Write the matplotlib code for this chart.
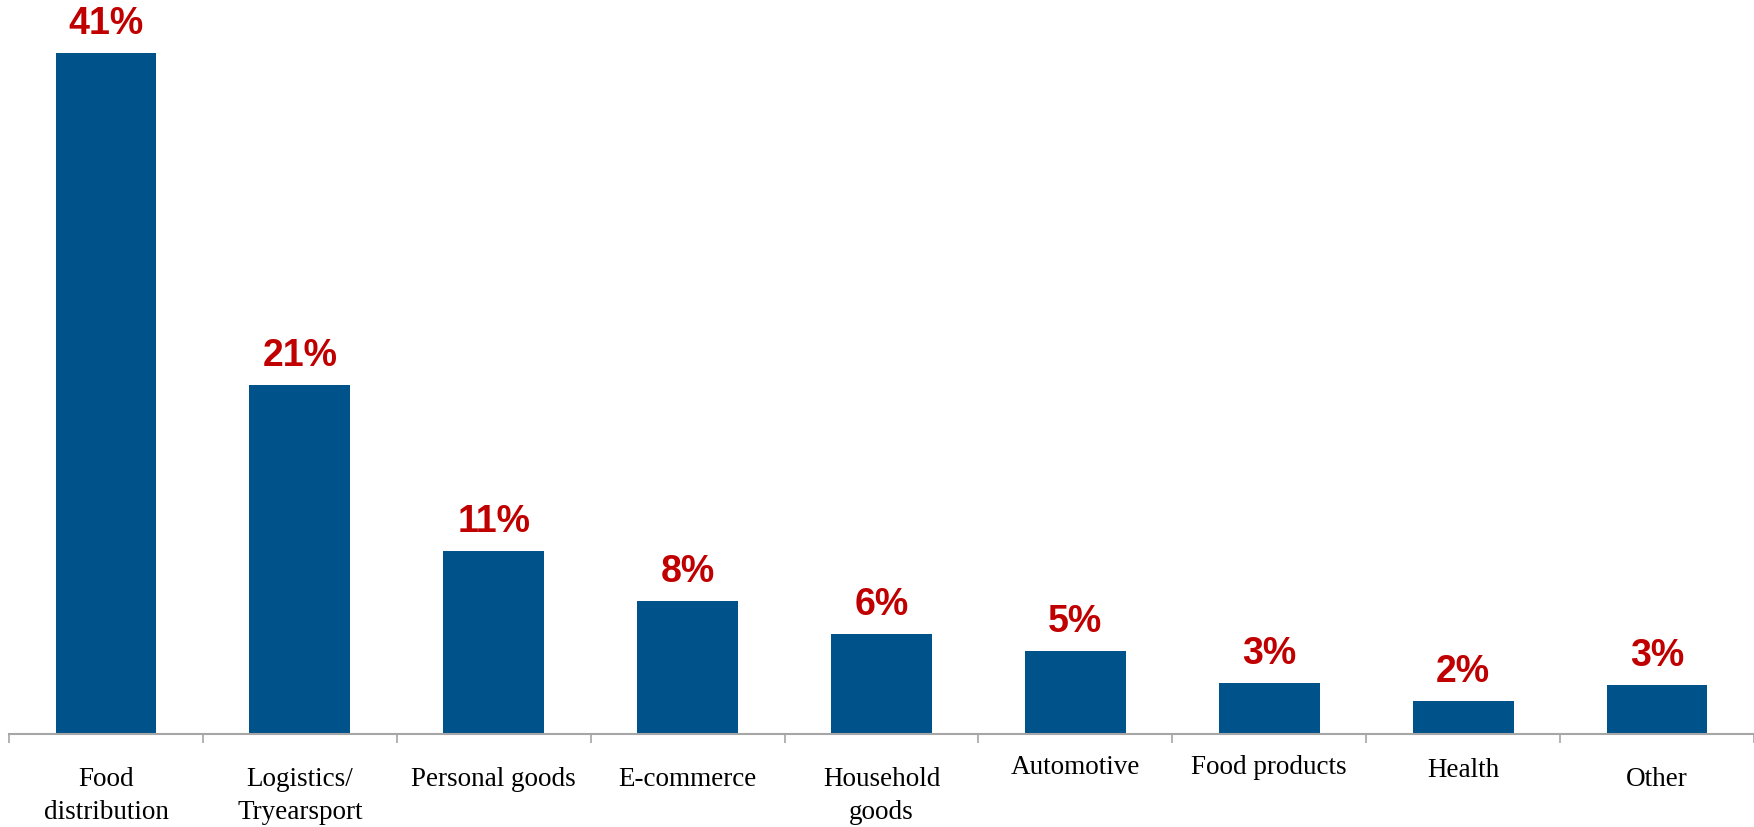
import matplotlib
matplotlib.use("Agg")
import matplotlib.pyplot as plt
import numpy as np

categories = ["Food\ndistribution", "Logistics/\nTryearsport", "Personal goods", "E-commerce",
              "Household\ngoods", "Automotive", "Food products", "Health", "Other"]
values = [41.0, 21.0, 11.0, 8.0, 6.0, 5.0, 3.05, 2.0, 2.95]
value_labels = ["41%", "21%", "11%", "8%", "6%", "5%", "3%", "2%", "3%"]

W, H = 1754, 827
fig = plt.figure(figsize=(W / 100, H / 100), dpi=100)
fig.patch.set_facecolor("white")

base_px = 734.0
px_per_unit = 16.62
ymax = 44.0
ax_h = ymax * px_per_unit
ax = fig.add_axes([9 / W, (H - base_px) / H, (W - 9) / W, ax_h / H])

x = np.arange(len(categories))
ax.bar(x, values, width=0.52, color="#00528A", zorder=2)
ax.set_xlim(-0.5, len(categories) - 0.5)
ax.set_ylim(0, ymax)

for s in ["top", "right", "left"]:
    ax.spines[s].set_visible(False)
ax.spines["bottom"].set_color("#A6A6A6")
ax.spines["bottom"].set_linewidth(1.5)
ax.set_yticks([])
ax.set_xticks([])
ax.set_xticks(np.arange(-0.5, len(categories)), minor=True)
ax.tick_params(axis="x", which="minor", length=6.5, width=1.2, color="#A6A6A6",
               direction="out", labelbottom=False)
ax.patch.set_alpha(0)

for xi, v, lab in zip(x, values, value_labels):
    ax.annotate(lab, xy=(xi, v), xytext=(0, 13.7), textcoords="offset points",
                ha="center", va="baseline", fontsize=27, fontweight="bold",
                color="#C00000", family="Liberation Sans")

label_offsets = [44.5, 44.5, 33, 33, 44.5, 24, 24, 26.4, 33]
for xi, cat, off in zip(x, categories, label_offsets):
    ax.annotate(cat, xy=(xi, 0), xycoords=("data", "axes fraction"),
                xytext=(0, -off), textcoords="offset points",
                ha="center", va="center", fontsize=19.5, family="Liberation Serif",
                color="black", linespacing=1.4, annotation_clip=False)

fig.savefig("out.png", dpi=100, facecolor="white")
